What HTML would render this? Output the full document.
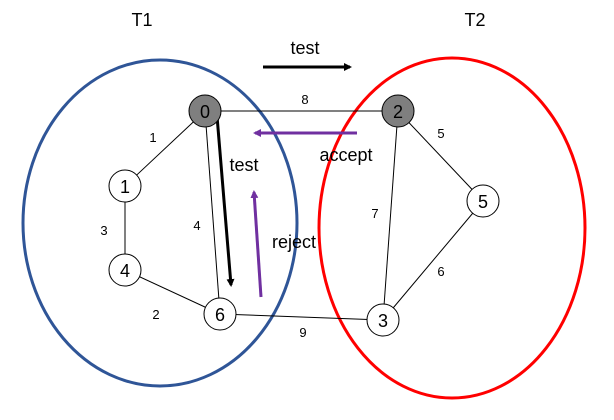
<!DOCTYPE html>
<html><head><style>body{margin:0;background:#fff}svg{display:block}text{font-family:"Liberation Sans",sans-serif}</style></head><body>
<svg width="614" height="420" viewBox="0 0 614 420">
<defs>
<marker id="ab" markerWidth="8" markerHeight="8" refX="6" refY="4" orient="auto" markerUnits="userSpaceOnUse"><path d="M0,0 L8,4 L0,8 z" fill="#000"/></marker>
<marker id="ap" markerWidth="8" markerHeight="8" refX="6" refY="4" orient="auto" markerUnits="userSpaceOnUse"><path d="M0,0 L8,4 L0,8 z" fill="#7030a0"/></marker>
</defs>
<ellipse cx="160" cy="223" rx="137" ry="163" fill="none" stroke="#2f5597" stroke-width="3"/>
<ellipse cx="452" cy="228" rx="133" ry="170" fill="none" stroke="#ff0000" stroke-width="3"/>
<g stroke="#000" stroke-width="1">
<line x1="205" y1="111" x2="398" y2="111"/>
<line x1="205" y1="111" x2="125" y2="186"/>
<line x1="205" y1="111" x2="220" y2="314"/>
<line x1="125" y1="186" x2="125" y2="270"/>
<line x1="125" y1="270" x2="220" y2="314"/>
<line x1="220" y1="314" x2="383" y2="320"/>
<line x1="398" y1="111" x2="383" y2="320"/>
<line x1="398" y1="111" x2="483" y2="201"/>
<line x1="483" y1="201" x2="383" y2="320"/>
</g>
<line x1="263" y1="67" x2="350" y2="67" stroke="#000" stroke-width="3" marker-end="url(#ab)"/>
<line x1="357" y1="133" x2="255" y2="133" stroke="#7030a0" stroke-width="3" marker-end="url(#ap)"/>
<line x1="217" y1="116" x2="231" y2="285" stroke="#000" stroke-width="3" marker-end="url(#ab)"/>
<line x1="261" y1="297" x2="254" y2="192" stroke="#7030a0" stroke-width="3" marker-end="url(#ap)"/>
<g stroke="#000" stroke-width="1">
<circle cx="205" cy="111" r="16" fill="#7f7f7f"/>
<circle cx="398" cy="111" r="16" fill="#7f7f7f"/>
<circle cx="125" cy="186" r="16" fill="#fff"/>
<circle cx="125" cy="270" r="16" fill="#fff"/>
<circle cx="220" cy="314" r="16" fill="#fff"/>
<circle cx="383" cy="320" r="16" fill="#fff"/>
<circle cx="483" cy="201" r="16" fill="#fff"/>
</g>
<g font-size="18" text-anchor="middle">
<text x="205" y="118">0</text><text x="398" y="118">2</text><text x="125" y="193">1</text>
<text x="125" y="277">4</text><text x="220" y="321">6</text><text x="383" y="327">3</text><text x="483" y="208">5</text>
<text x="142" y="26">T1</text><text x="475" y="26">T2</text>
<text x="305" y="54">test</text><text x="346" y="161">accept</text><text x="244" y="171">test</text><text x="294" y="248">reject</text>
</g>
<g font-size="13" text-anchor="middle">
<text x="153" y="142">1</text><text x="305" y="104">8</text><text x="441" y="138">5</text>
<text x="104" y="235">3</text><text x="197" y="230">4</text><text x="375" y="218">7</text>
<text x="441" y="276">6</text><text x="156" y="319">2</text><text x="303" y="337">9</text>
</g>
</svg>
</body></html>
